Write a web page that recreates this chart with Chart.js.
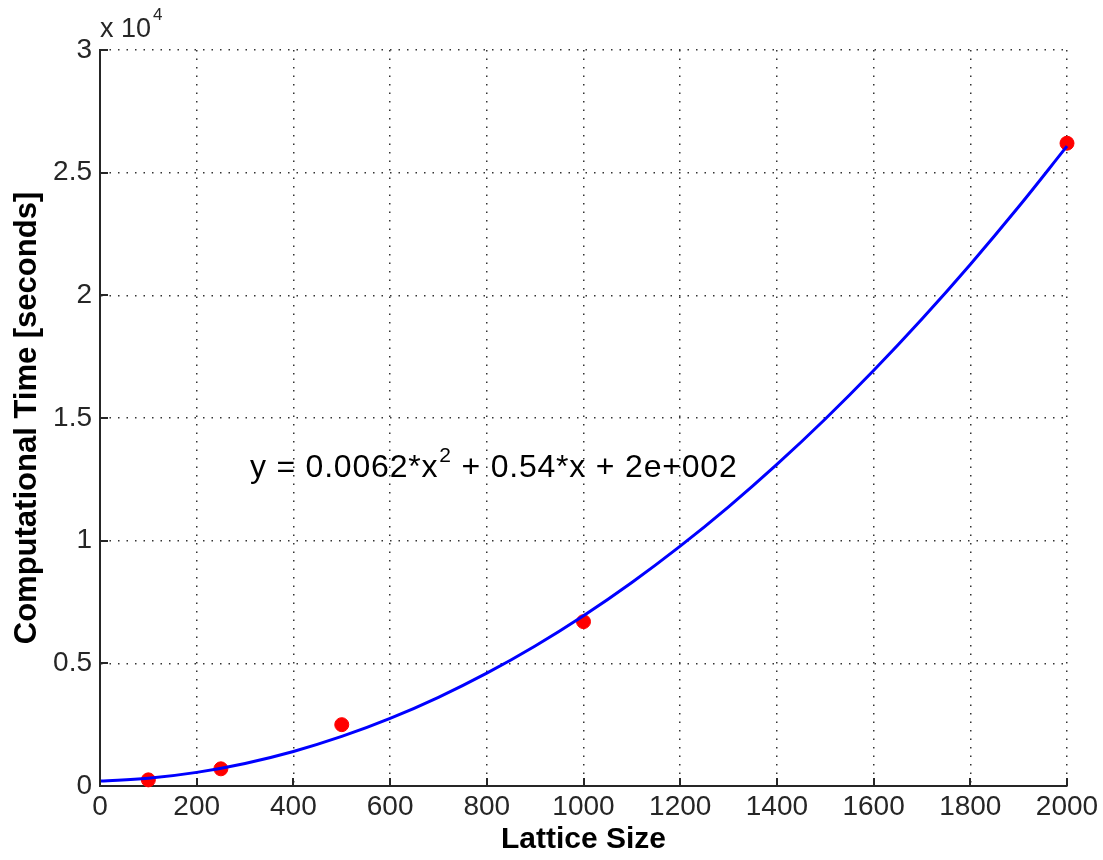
<!DOCTYPE html>
<html>
<head>
<meta charset="utf-8">
<script src="https://cdn.jsdelivr.net/npm/chart.js@4/dist/chart.umd.min.js"></script>
<style>
  html, body { margin: 0; padding: 0; background: #fff; }
  #wrap { width: 1103px; height: 860px; }
</style>
</head>
<body>
<div id="wrap"><canvas id="fitChart"></canvas></div>
<script>
// measured runs
const latticeSizes = [100, 250, 500, 1000, 2000];
const runTimes = [250, 700, 2500, 6700, 26200];

// fitted quadratic, sampled every 100
const fitX = [0, 100, 200, 300, 400, 500, 600, 700, 800, 900, 1000,
              1100, 1200, 1300, 1400, 1500, 1600, 1700, 1800, 1900, 2000];
const fitY = [200, 316, 556, 920, 1408, 2020, 2756, 3616, 4600, 5708, 6940,
              8296, 9776, 11380, 13108, 14960, 16936, 19036, 21260, 23608, 26080];

const fitLabel = ['y = 0.0062*x', '2', ' + 0.54*x + 2e+002'];
const exponentLabel = ['x 10', '4'];

const FONT = '"Liberation Sans", Arial, sans-serif';
const AXIS = '#262626';

const extras = {
    id: 'extras',
    afterDraw(chart) {
        const { ctx, chartArea: a, scales: { x, y } } = chart;
        ctx.save();
        // inward tick marks
        ctx.strokeStyle = AXIS;
        ctx.lineWidth = 2;
        ctx.beginPath();
        for (let v = 0; v <= 2000; v += 200) {
            const px = Math.round(x.getPixelForValue(v));
            ctx.moveTo(px, a.bottom);
            ctx.lineTo(px, a.bottom - 8);
        }
        for (let v = 0; v <= 30000; v += 5000) {
            const py = Math.round(y.getPixelForValue(v));
            ctx.moveTo(a.left, py);
            ctx.lineTo(a.left + 8, py);
        }
        ctx.stroke();

        // exponent above the y axis
        ctx.fillStyle = AXIS;
        ctx.textBaseline = 'alphabetic';
        ctx.font = '27px ' + FONT;
        ctx.fillText(exponentLabel[0], a.left, a.top - 13);
        const w0 = ctx.measureText(exponentLabel[0]).width;
        ctx.font = '17px ' + FONT;
        ctx.fillText(exponentLabel[1], a.left + w0 + 2, a.top - 30);

        // fit equation
        let tx = x.getPixelForValue(310);
        const ty = y.getPixelForValue(12600);
        ctx.fillStyle = '#000';
        ctx.letterSpacing = '0.8px';
        ctx.font = '32px ' + FONT;
        ctx.fillText(fitLabel[0], tx, ty);
        tx += ctx.measureText(fitLabel[0]).width + 1;
        ctx.font = '21px ' + FONT;
        ctx.fillText(fitLabel[1], tx, ty - 15);
        tx += ctx.measureText(fitLabel[1]).width;
        ctx.font = '32px ' + FONT;
        ctx.fillText(fitLabel[2], tx, ty);
        ctx.restore();
    }
};

new Chart(document.getElementById('fitChart'), {
    type: 'scatter',
    data: {
        datasets: [
            {
                label: 'fit',
                type: 'line',
                data: fitX.map((v, i) => ({ x: v, y: fitY[i] })),
                borderColor: '#0000ff',
                borderWidth: 3,
                pointRadius: 0,
                tension: 0.4,
                fill: false,
                clip: false,
                order: 1
            },
            {
                label: 'data',
                data: latticeSizes.map((v, i) => ({ x: v, y: runTimes[i] })),
                backgroundColor: '#ff0000',
                borderColor: '#ff0000',
                pointRadius: 7,
                clip: false,
                order: 2
            }
        ]
    },
    options: {
        responsive: true,
        maintainAspectRatio: false,
        animation: false,
        layout: { padding: { top: 50, right: 36, left: 0, bottom: 0 } },
        plugins: {
            legend: { display: false },
            tooltip: { enabled: false }
        },
        scales: {
            x: {
                type: 'linear',
                min: 0,
                max: 2000,
                afterFit: (s) => { s.height = 74; },
                ticks: {
                    stepSize: 200,
                    color: AXIS,
                    padding: 4,
                    font: { family: FONT, size: 28 },
                    callback: (v) => String(v)
                },
                grid: { color: '#333', lineWidth: 1.5, tickLength: 0, drawTicks: false },
                border: { display: true, color: AXIS, width: 2, dash: [1.5, 7] },
                title: {
                    display: true,
                    text: 'Lattice Size',
                    color: '#000',
                    padding: { top: 0, bottom: 2 },
                    font: { family: FONT, size: 30, weight: 'bold' }
                }
            },
            y: {
                min: 0,
                max: 30000,
                afterFit: (s) => { s.width = 100; },
                ticks: {
                    stepSize: 5000,
                    color: AXIS,
                    padding: 8,
                    font: { family: FONT, size: 28 },
                    callback: (v) => String(v / 10000)
                },
                grid: { color: '#333', lineWidth: 1.5, tickLength: 0, drawTicks: false },
                border: { display: true, color: AXIS, width: 2, dash: [1.5, 7] },
                title: {
                    display: true,
                    text: 'Computational Time [seconds]',
                    color: '#000',
                    padding: { top: 9, bottom: 0 },
                    font: { family: FONT, size: 31, weight: 'bold' }
                }
            }
        }
    },
    plugins: [extras]
});
</script>
</body>
</html>
